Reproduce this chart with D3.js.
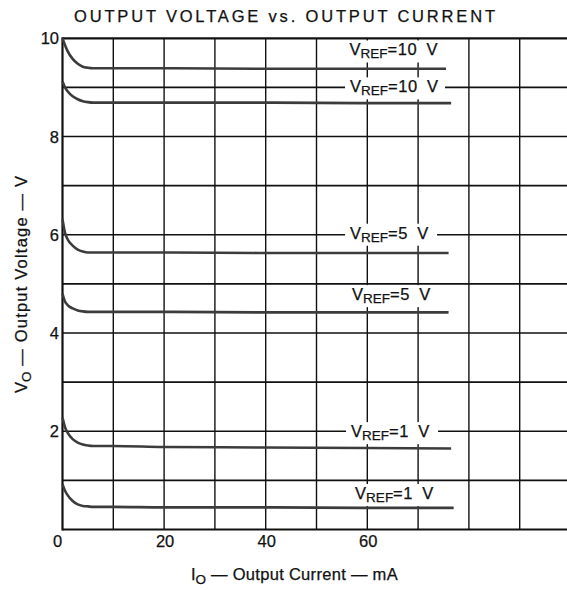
<!DOCTYPE html>
<html>
<head>
<meta charset="utf-8">
<script src="https://cdn.jsdelivr.net/npm/d3@7"></script>
<style>
  body { margin: 0; background: #fff; }
  text { font-family: "Liberation Sans", Arial, sans-serif; fill: #111; stroke: #111; stroke-width: 0.25px; }
</style>
</head>
<body>
<script>
// output current (mA) sample points, shared by all curves
let curX = [0, 0.5, 1, 2, 3, 4, 5, 6, 10, 20, 40, 60];
let endX = [75.5, 76.5, 76, 76, 76.5, 77];

// output voltage (V) for each curve, last value is at endX
let vref10a = [10.0, 9.86, 9.74, 9.58, 9.48, 9.42, 9.40, 9.39, 9.39, 9.39, 9.38, 9.38, 9.38];
let vref10b = [9.12, 9.00, 8.92, 8.82, 8.76, 8.72, 8.70, 8.69, 8.69, 8.69, 8.69, 8.68, 8.68];
let vref5a = [6.32, 6.04, 5.91, 5.78, 5.70, 5.66, 5.64, 5.64, 5.64, 5.64, 5.63, 5.63, 5.63];
let vref5b = [4.80, 4.64, 4.57, 4.50, 4.46, 4.44, 4.43, 4.43, 4.43, 4.43, 4.42, 4.42, 4.42];
let vref1a = [2.28, 2.08, 1.97, 1.84, 1.77, 1.73, 1.71, 1.70, 1.70, 1.68, 1.67, 1.66, 1.65];
let vref1b = [0.92, 0.79, 0.70, 0.58, 0.51, 0.48, 0.47, 0.46, 0.46, 0.45, 0.45, 0.44, 0.44];

let series = [vref10a, vref10b, vref5a, vref5b, vref1a, vref1b];
let labels = ["=10 V", "=10 V", "=5 V", "=5 V", "=1 V", "=1 V"];

let xTicks = [0, 20, 40, 60];
let yTicks = [2, 4, 6, 8, 10];

// label anchor (mA, V)
let labelAt = [[56.5, 9.65], [56.6, 8.90], [56.6, 5.92], [57, 4.67], [56.8, 1.88], [57.6, 0.62]];

let W = 567, H = 590;
let svg = d3.select("body").append("svg").attr("width", W).attr("height", H);

let xScale = d3.scaleLinear().domain([0, 100]).range([62.5, 570.5]);
let yScale = d3.scaleLinear().domain([0, 10]).range([529.5, 38.3]);

// grid
svg.append("g")
    .selectAll("line")
    .data(d3.range(10, 100, 10))
    .enter().append("line")
    .attr("x1", d => xScale(d)).attr("x2", d => xScale(d))
    .attr("y1", yScale(0)).attr("y2", yScale(10))
    .attr("stroke", "#111").attr("stroke-width", 1.4);

svg.append("g")
    .selectAll("line")
    .data(d3.range(1, 10))
    .enter().append("line")
    .attr("x1", xScale(0)).attr("x2", W)
    .attr("y1", d => yScale(d)).attr("y2", d => yScale(d))
    .attr("stroke", "#111").attr("stroke-width", 1.6);

// frame
svg.append("line").attr("x1", xScale(0)).attr("x2", W)
    .attr("y1", yScale(10)).attr("y2", yScale(10))
    .attr("stroke", "#111").attr("stroke-width", 2.2);
svg.append("line").attr("x1", xScale(0)).attr("x2", W)
    .attr("y1", yScale(0)).attr("y2", yScale(0))
    .attr("stroke", "#111").attr("stroke-width", 2.2);
svg.append("line").attr("x1", xScale(0)).attr("x2", xScale(0))
    .attr("y1", yScale(0) + 1).attr("y2", yScale(10) - 1)
    .attr("stroke", "#111").attr("stroke-width", 2.2);

// curve labels with white background
let lab = svg.append("g").selectAll("g")
    .data(labels)
    .enter().append("g")
    .attr("transform", (d, i) => "translate(" + xScale(labelAt[i][0]) + "," + yScale(labelAt[i][1]) + ")");

lab.append("rect")
    .attr("x", -5).attr("y", -15)
    .attr("width", (d, i) => i < 2 ? 100 : 92)
    .attr("height", 22)
    .attr("fill", "#fff");

let lt = lab.append("text").attr("font-size", 16.5);
lt.append("tspan").text("V");
lt.append("tspan").attr("font-size", 13.5).attr("dy", 3).text("REF");
lt.append("tspan").attr("dy", -3).attr("letter-spacing", 0.6)
    .text(d => d.replace(" ", "\u2009 "));

// curves
let line = d3.line()
    .x(d => xScale(d[0]))
    .y(d => yScale(d[1]))
    .curve(d3.curveMonotoneX);

svg.append("g")
    .selectAll("path")
    .data(series)
    .enter().append("path")
    .attr("d", (s, i) => line(s.map((v, j) => [j < curX.length ? curX[j] : endX[i], v])))
    .attr("fill", "none")
    .attr("stroke", "#3c3c3c")
    .attr("stroke-width", 2.6);

// axes tick labels
svg.append("g")
    .selectAll("text")
    .data(yTicks)
    .enter().append("text")
    .attr("x", 59)
    .attr("y", d => yScale(d) + 6)
    .attr("text-anchor", "end")
    .attr("font-size", 16.5)
    .text(d => d);

svg.append("g")
    .selectAll("text")
    .data(xTicks)
    .enter().append("text")
    .attr("x", d => xScale(d) + (d === 0 ? -5 : 1))
    .attr("y", 547)
    .attr("text-anchor", "middle")
    .attr("font-size", 16.5)
    .text(d => d);

// title
svg.append("text")
    .attr("x", 74).attr("y", 22)
    .attr("font-size", 16.5)
    .attr("textLength", 421).attr("lengthAdjust", "spacing")
    .text("OUTPUT VOLTAGE vs. OUTPUT CURRENT");

// x title
let xt = svg.append("text").attr("x", 191).attr("y", 580).attr("font-size", 16.5);
xt.append("tspan").text("I");
xt.append("tspan").attr("font-size", 13.5).attr("dy", 4).text("O");
xt.append("tspan").attr("dy", -4).attr("letter-spacing", 0.3).text(" \u2014 Output  Current \u2014 mA");

// y title
let yt = svg.append("text")
    .attr("transform", "translate(27,393) rotate(-90)")
    .attr("font-size", 16.5);
yt.append("tspan").text("V");
yt.append("tspan").attr("font-size", 13.5).attr("dy", 4).text("O");
yt.append("tspan").attr("dy", -4).attr("letter-spacing", 1.2).text(" \u2014 Output  Voltage \u2014 V");
</script>
</body>
</html>
